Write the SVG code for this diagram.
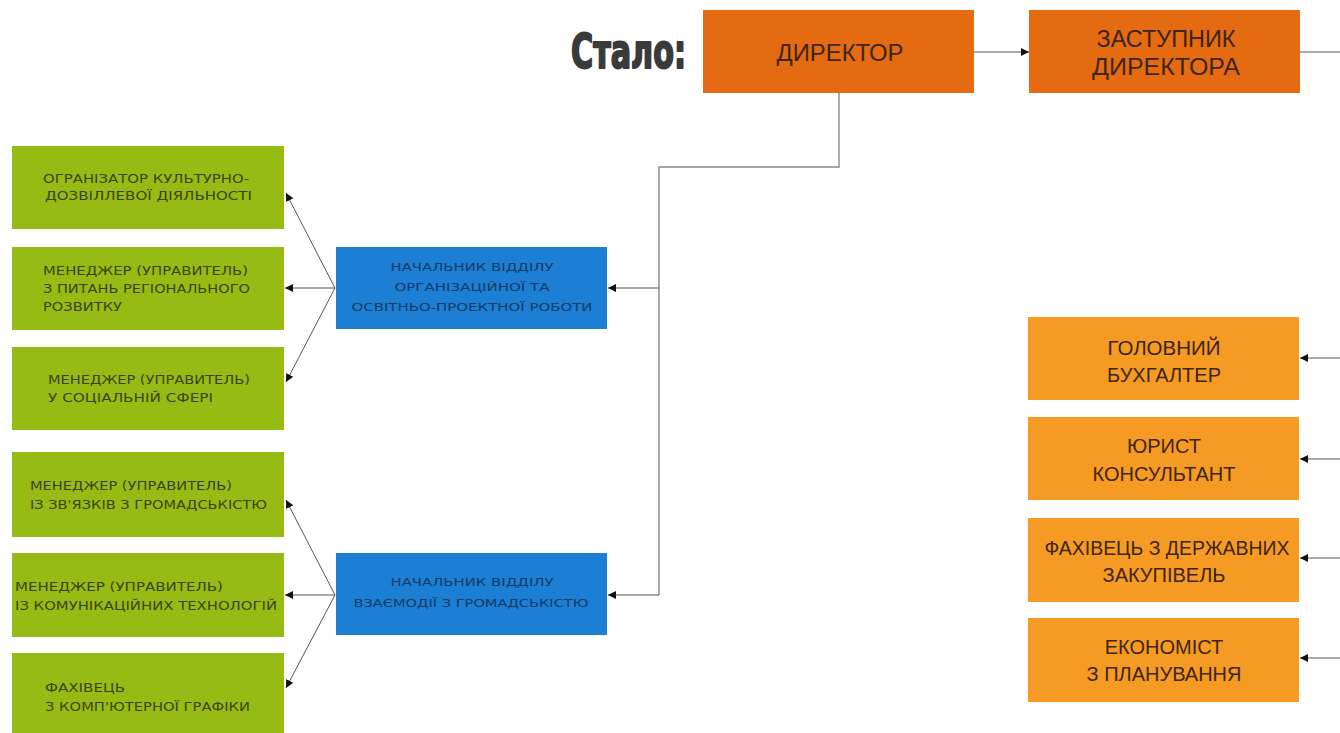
<svg xmlns="http://www.w3.org/2000/svg" width="1340" height="733" viewBox="0 0 1340 733">
<style>
.g{fill:#97bb15}
.b{fill:#1c7fd4}
.o1{fill:#e56b13}
.o2{fill:#f59a22}
.gt{font-family:"DejaVu Sans",sans-serif;font-size:11.5px;fill:#3a4410}
.bt{font-family:"DejaVu Sans",sans-serif;font-size:11px;fill:#143a66;text-anchor:middle}
.ot{font-family:"Liberation Sans",sans-serif;font-size:23px;fill:#3e2512;text-anchor:middle}
.ot2{font-family:"Liberation Sans",sans-serif;font-size:20px;fill:#3e2512;text-anchor:middle}
.c{fill:none;stroke:#555;stroke-width:1}
.c2{fill:none;stroke:#8a8a8a;stroke-width:1.4}
</style>
<defs>
<marker id="ah" viewBox="0 0 10 10" refX="10" refY="5" markerWidth="8" markerHeight="8" markerUnits="userSpaceOnUse" orient="auto">
<path d="M0,0 L10,5 L0,10 z" fill="#111"/>
</marker>
</defs>
<rect width="1340" height="733" fill="#fff"/>
<text x="571" y="68" font-family="Liberation Sans Narrow,'DejaVu Sans Condensed',sans-serif" font-weight="bold" font-size="48" fill="#3a3a3a" stroke="#3a3a3a" stroke-width="2" stroke-linejoin="round" textLength="115" lengthAdjust="spacingAndGlyphs">Стало:</text>

<g id="director"><rect class="o1" x="703" y="10" width="271" height="83"/><text class="ot" x="840" y="61" textLength="127" lengthAdjust="spacingAndGlyphs">ДИРЕКТОР</text></g>
<g id="deputy"><rect class="o1" x="1029" y="10" width="271" height="83"/><text class="ot" x="1166" y="47" textLength="139" lengthAdjust="spacingAndGlyphs">ЗАСТУПНИК</text><text class="ot" x="1166" y="75" textLength="148" lengthAdjust="spacingAndGlyphs">ДИРЕКТОРА</text></g>

<g id="accountant"><rect class="o2" x="1028" y="317" width="271" height="83"/><text class="ot2" x="1164" y="355" textLength="113" lengthAdjust="spacingAndGlyphs">ГОЛОВНИЙ</text><text class="ot2" x="1164" y="382">БУХГАЛТЕР</text></g>
<g id="lawyer"><rect class="o2" x="1028" y="417" width="271" height="83"/><text class="ot2" x="1164" y="453">ЮРИСТ</text><text class="ot2" x="1164" y="481">КОНСУЛЬТАНТ</text></g>
<g id="procurement"><rect class="o2" x="1028" y="518" width="271" height="84"/><text class="ot2" x="1167" y="555" textLength="245" lengthAdjust="spacingAndGlyphs">ФАХІВЕЦЬ З ДЕРЖАВНИХ</text><text class="ot2" x="1164" y="582">ЗАКУПІВЕЛЬ</text></g>
<g id="economist"><rect class="o2" x="1028" y="618" width="271" height="84"/><text class="ot2" x="1164" y="654">ЕКОНОМІСТ</text><text class="ot2" x="1164" y="681">З ПЛАНУВАННЯ</text></g>

<g id="head-org"><rect class="b" x="336" y="247" width="271" height="82"/>
<text class="bt" x="472" y="271" textLength="163" lengthAdjust="spacingAndGlyphs">НАЧАЛЬНИК ВІДДІЛУ</text>
<text class="bt" x="472" y="291" textLength="155" lengthAdjust="spacingAndGlyphs">ОРГАНІЗАЦІЙНОЇ ТА</text>
<text class="bt" x="472" y="311" textLength="241" lengthAdjust="spacingAndGlyphs">ОСВІТНЬО-ПРОЕКТНОЇ РОБОТИ</text></g>
<g id="head-community"><rect class="b" x="336" y="553" width="271" height="82"/>
<text class="bt" x="472" y="586" textLength="163" lengthAdjust="spacingAndGlyphs">НАЧАЛЬНИК ВІДДІЛУ</text>
<text class="bt" x="471" y="607" textLength="235" lengthAdjust="spacingAndGlyphs">ВЗАЄМОДІЇ З ГРОМАДСЬКІСТЮ</text></g>

<g id="organizer"><rect class="g" x="12" y="146" width="272" height="83"/>
<text class="gt" x="43" y="183" textLength="206" lengthAdjust="spacingAndGlyphs">ОГРАНІЗАТОР КУЛЬТУРНО-</text>
<text class="gt" x="45" y="200" textLength="207" lengthAdjust="spacingAndGlyphs">ДОЗВІЛЛЕВОЇ ДІЯЛЬНОСТІ</text></g>
<g id="manager-regional"><rect class="g" x="12" y="247" width="272" height="83"/>
<text class="gt" x="43" y="275" textLength="205" lengthAdjust="spacingAndGlyphs">МЕНЕДЖЕР (УПРАВИТЕЛЬ)</text>
<text class="gt" x="43" y="293" textLength="207" lengthAdjust="spacingAndGlyphs">З ПИТАНЬ РЕГІОНАЛЬНОГО</text>
<text class="gt" x="43" y="311" textLength="79" lengthAdjust="spacingAndGlyphs">РОЗВИТКУ</text></g>
<g id="manager-social"><rect class="g" x="12" y="347" width="272" height="83"/>
<text class="gt" x="48" y="384" textLength="202" lengthAdjust="spacingAndGlyphs">МЕНЕДЖЕР (УПРАВИТЕЛЬ)</text>
<text class="gt" x="48" y="402" textLength="165" lengthAdjust="spacingAndGlyphs">У СОЦІАЛЬНІЙ СФЕРІ</text></g>
<g id="manager-community"><rect class="g" x="12" y="452" width="272" height="85"/>
<text class="gt" x="30" y="490" textLength="202" lengthAdjust="spacingAndGlyphs">МЕНЕДЖЕР (УПРАВИТЕЛЬ)</text>
<text class="gt" x="30" y="509" textLength="237" lengthAdjust="spacingAndGlyphs">ІЗ ЗВ'ЯЗКІВ З ГРОМАДСЬКІСТЮ</text></g>
<g id="manager-comm-tech"><rect class="g" x="12" y="553" width="272" height="84"/>
<text class="gt" x="15" y="591" textLength="208" lengthAdjust="spacingAndGlyphs">МЕНЕДЖЕР (УПРАВИТЕЛЬ)</text>
<text class="gt" x="15" y="610" textLength="262" lengthAdjust="spacingAndGlyphs">ІЗ КОМУНІКАЦІЙНИХ ТЕХНОЛОГІЙ</text></g>
<g id="graphics"><rect class="g" x="12" y="653" width="272" height="84"/>
<text class="gt" x="45" y="692" textLength="80" lengthAdjust="spacingAndGlyphs">ФАХІВЕЦЬ</text>
<text class="gt" x="45" y="711" textLength="205" lengthAdjust="spacingAndGlyphs">З КОМП'ЮТЕРНОЇ ГРАФІКИ</text></g>

<g id="connectors">
<path class="c" d="M974,52 H1029" marker-end="url(#ah)"/>
<path class="c" d="M1300,52 H1340"/>
<path class="c2" d="M839,93 V167 H659 V595"/>
<path class="c" d="M659,288 H608" marker-end="url(#ah)"/>
<path class="c" d="M659,595 H608" marker-end="url(#ah)"/>
<path class="c" d="M1340,358 H1300" marker-end="url(#ah)"/>
<path class="c" d="M1340,459 H1300" marker-end="url(#ah)"/>
<path class="c" d="M1340,558 H1300" marker-end="url(#ah)"/>
<path class="c" d="M1340,658 H1300" marker-end="url(#ah)"/>
<path class="c" d="M335,288 L286,193" marker-end="url(#ah)"/>
<path class="c" d="M335,288 H285" marker-end="url(#ah)"/>
<path class="c" d="M335,288 L286,382" marker-end="url(#ah)"/>
<path class="c" d="M335,595 L286,500" marker-end="url(#ah)"/>
<path class="c" d="M335,595 H285" marker-end="url(#ah)"/>
<path class="c" d="M335,595 L286,688" marker-end="url(#ah)"/>
</g>
</svg>
